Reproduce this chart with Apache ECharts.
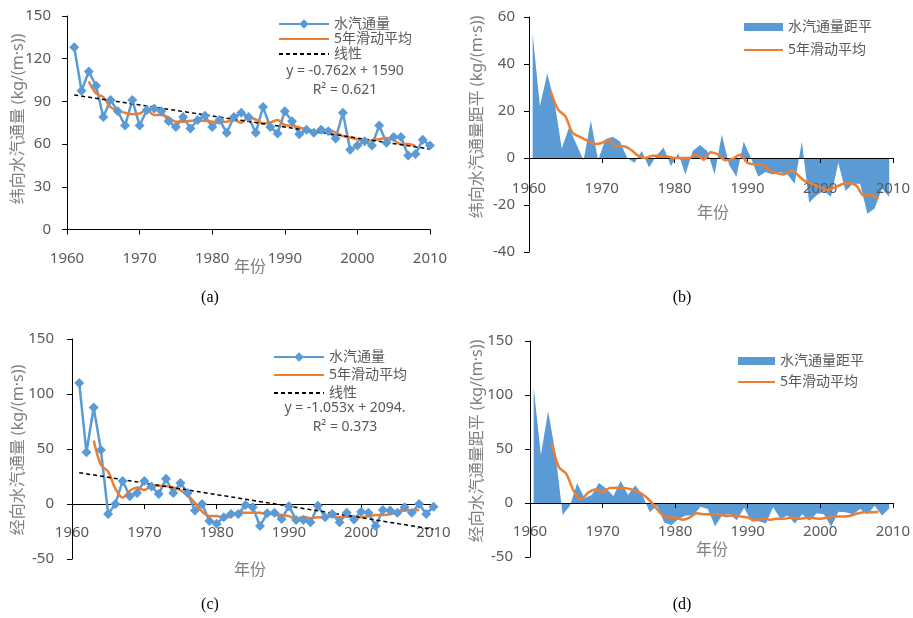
<!DOCTYPE html>
<html lang="zh-CN">
<head>
<meta charset="UTF-8">
<title>水汽通量</title>
<script src="https://cdn.jsdelivr.net/npm/echarts@6/dist/echarts.min.js"></script>
<style>
    html, body { margin: 0; padding: 0; background: #fff; }
    #main { width: 913px; height: 618px; }
</style>
</head>
<body>
<div id="main"></div>
<script>
// 年份
var years = [1961, 1962, 1963, 1964, 1965, 1966, 1967, 1968, 1969, 1970,
             1971, 1972, 1973, 1974, 1975, 1976, 1977, 1978, 1979, 1980,
             1981, 1982, 1983, 1984, 1985, 1986, 1987, 1988, 1989, 1990,
             1991, 1992, 1993, 1994, 1995, 1996, 1997, 1998, 1999, 2000,
             2001, 2002, 2003, 2004, 2005, 2006, 2007, 2008, 2009, 2010];
var maYears = [1963, 1964, 1965, 1966, 1967, 1968, 1969, 1970, 1971, 1972,
               1973, 1974, 1975, 1976, 1977, 1978, 1979, 1980, 1981, 1982,
               1983, 1984, 1985, 1986, 1987, 1988, 1989, 1990, 1991, 1992,
               1993, 1994, 1995, 1996, 1997, 1998, 1999, 2000, 2001, 2002,
               2003, 2004, 2005, 2006, 2007, 2008];

// (a) 纬向水汽通量
var zonalFlux = [128, 97.5, 111, 101, 79, 91, 83, 73, 91, 73,
                 84, 85, 83, 76, 72, 79, 71, 77, 80, 72,
                 77, 68, 79, 82, 79, 68, 86, 72, 67.5, 83,
                 76, 67, 70, 68, 70, 69, 64, 82, 56, 59,
                 62, 59, 73, 61, 65, 65, 52, 53, 63, 59];
var zonalMA = [104, 95.6, 93, 86, 83.4, 82, 81, 81.5, 84, 80.4,
               80.4, 78.7, 75.7, 75.7, 76.4, 76.4, 76.4, 75.7, 75.5, 75.7,
               77, 75, 78.7, 77.3, 74.5, 75.2, 77, 73.4, 73, 71.7,
               70.3, 69, 68.2, 70.3, 68, 65.6, 64.7, 63.3, 61.6, 62.8,
               63.5, 64.2, 62.8, 60, 60, 58.6];
var zonalTrend = [[1961, 94.5], [2010, 56.5]];

// (b) 纬向距平
var zonalAnom = [53, 22, 36, 24, 4, 13, 6, -1, 16, -1,
                 8, 9, 7, 0, -2, 3, -4, 1, 4.5, -3.5,
                 2, -7, 3, 5.5, 3, -7, 10, -3, -8, 7,
                 0, -8, -6, -7, -6, -7, -11, 7, -19, -16,
                 -14, -16.5, -2, -14, -11, -11, -23.7, -21.5, -13, -16.5];
var zonalAnomMA = [28, 20.6, 17.7, 10.6, 9, 7.5, 6, 6.4, 7.8, 5,
                   5, 3.5, 1, 0, 1, 1, 0.6, 0, 0, 0,
                   1.5, -0.7, 2.5, 1.5, -1, -0.3, 1.4, -2, -2.7, -2.8,
                   -5.2, -6.4, -7, -5.2, -7.4, -10, -11, -12.5, -13.6, -12.5,
                   -11.2, -10.6, -11.8, -16, -15.6, -17.3];

// (c) 经向水汽通量
var meridFlux = [110, 47, 87.7, 49, -9, 0, 21, 7, 10, 21,
                 16, 9, 23, 10, 19, 10, -6, 0, -15.5, -18,
                 -12, -9, -9, -1, -3, -20, -8.5, -8, -13.7, -2,
                 -14.5, -14.5, -16.7, -1.5, -12, -9, -16.7, -8, -14, -7,
                 -8, -20, -5.5, -6, -8, -3, -8, 0, -9, -2.5];
var meridMA = [57.7, 35.5, 29.4, 14, 5.8, 12, 15, 12.7, 16.4, 16.7,
               16.4, 15, 12.7, 8, 1, -7, -11, -11, -13, -11,
               -7, -8, -8, -8, -9.4, -9, -10, -11, -13.7, -11.5,
               -13, -12, -12, -11, -12, -11.5, -11.5, -12, -11, -10,
               -10, -9.4, -7.6, -6, -6, -5.5];
var meridTrend = [[1961, 28.5], [2010, -23]];

// (d) 经向距平
var meridAnom = [107.5, 44.5, 85, 46.5, -11, -2.5, 18.5, 4.5, 7.5, 18.5,
                 13.5, 6.5, 20.5, 7.5, 16.5, 7.5, -8.5, -2.5, -18, -20.5,
                 -14.5, -11.5, -11.5, -3.5, -5.5, -21.5, -11, -10.5, -16, -4.5,
                 -17, -17, -19, -4, -14.5, -11.5, -19, -10.5, -16.5, -9.5,
                 -10.5, -22, -8, -8.5, -10.5, -5.5, -10.5, -2.5, -11.5, -5];
var meridAnomMA = [55.2, 33, 27, 11.5, 3.3, 9.5, 12.5, 10.2, 14, 14.2,
                   14, 12.5, 10.2, 5.5, -1.5, -9.5, -13.5, -13.5, -15.5, -13.5,
                   -9.5, -10.5, -10.5, -10.5, -12, -11.5, -12.5, -13.5, -16, -14,
                   -15.5, -14.5, -14.5, -13.5, -14.5, -14, -14, -14.5, -13.5, -12.5,
                   -12.5, -12, -10, -8.5, -8.5, -8];

var BLUE = '#5B9BD5', ORANGE = '#ED7D31';
var NUM_FONT = '"Noto Sans", sans-serif';
var CJK_FONT = '"Noto Sans", "Noto Sans CJK SC", sans-serif';

function pairs(xs, ys) {
    return ys.map(function (v, i) { return [xs[i], v]; });
}

// offset 把横轴（连同刻度标签）移到纵轴 0 的位置
function xAxisFor(gi, labelMargin, offset) {
    return {
        gridIndex: gi, type: 'value', min: 1960, max: 2010, interval: 10,
        offset: offset, z: 3,
        axisLine: { onZero: false, lineStyle: { color: '#000', width: 1 } },
        axisTick: { length: 5, lineStyle: { color: '#000' } },
        splitLine: { show: false },
        axisLabel: { margin: labelMargin, fontSize: 15, color: '#595959', fontFamily: NUM_FONT,
                     formatter: function (v) { return String(v); } }
    };
}
// 面积图在 Excel 中相对坐标轴偏移半年
function shiftAxisFor(gi) {
    return { gridIndex: gi, type: 'value', min: 1960.5, max: 2010.5, show: false };
}
function yAxisFor(gi, min, max, interval, labelMargin) {
    return {
        gridIndex: gi, type: 'value', min: min, max: max, interval: interval,
        axisLine: { show: true, onZero: false, lineStyle: { color: '#000', width: 1 } },
        axisTick: { show: true, length: 5, lineStyle: { color: '#000' } },
        splitLine: { show: false },
        axisLabel: { margin: labelMargin, fontSize: 15, color: '#595959', fontFamily: NUM_FONT }
    };
}

function fluxSeries(xi, yi, data) {
    return { name: '水汽通量', type: 'line', xAxisIndex: xi, yAxisIndex: yi, data: data,
             symbol: 'diamond', symbolSize: 10, color: BLUE,
             lineStyle: { width: 2.5, color: BLUE }, itemStyle: { color: BLUE } };
}
function maSeries(xi, yi, data) {
    return { name: '5年滑动平均', type: 'line', xAxisIndex: xi, yAxisIndex: yi, data: data,
             symbol: 'none', smooth: 0.3, color: ORANGE,
             lineStyle: { width: 2.5, color: ORANGE } };
}
function trendSeries(xi, yi, data) {
    return { name: '线性', type: 'line', xAxisIndex: xi, yAxisIndex: yi, data: data,
             symbol: 'none', color: '#000',
             lineStyle: { width: 1.5, color: '#000', type: [4, 3] } };
}
function anomSeries(xi, yi, data) {
    return { name: '水汽通量距平', type: 'line', xAxisIndex: xi, yAxisIndex: yi, data: data,
             symbol: 'none', color: BLUE, itemStyle: { color: BLUE },
             lineStyle: { width: 0 }, areaStyle: { color: BLUE, opacity: 1 } };
}

// 无标记的线条：图例中只保留线段
function lineOnly(name) {
    return { name: name, itemStyle: { color: 'rgba(0,0,0,0)', borderWidth: 0 } };
}

function legendFor(left, top, w, h, gap, lh, names) {
    return {
        orient: 'vertical', left: left, top: top, itemWidth: w, itemHeight: h, itemGap: gap,
        selectedMode: false, padding: 0,
        textStyle: { fontSize: 14, lineHeight: lh, color: '#595959', fontFamily: CJK_FONT },
        data: names
    };
}

function txt(x, y, s, size, color, font, rot) {
    return { type: 'text', x: x, y: y, rotation: rot || 0, silent: true,
             style: { text: s, fill: color, fontSize: size, fontFamily: font,
                      align: 'center', verticalAlign: 'middle' } };
}

var chart = echarts.init(document.getElementById('main'));

var option = {
    backgroundColor: '#fff',
    animation: false,
    grid: [
        { left: 67, top: 16, width: 363, height: 213.5 },
        { left: 529, top: 17, width: 364, height: 235 },
        { left: 72, top: 339, width: 361.5, height: 220 },
        { left: 530, top: 341, width: 363, height: 216 }
    ],
    xAxis: [
        xAxisFor(0, 22, 0),
        xAxisFor(1, 23, -94), shiftAxisFor(1),
        xAxisFor(2, 21, -55),
        xAxisFor(3, 21, -54), shiftAxisFor(3)
    ],
    yAxis: [
        yAxisFor(0, 0, 150, 30, 16),
        yAxisFor(1, -40, 60, 20, 14),
        yAxisFor(2, -50, 150, 50, 18),
        yAxisFor(3, -50, 150, 50, 17)
    ],
    legend: [
        legendFor(278, 17, 50, 12, 1, 12, ['水汽通量', lineOnly('5年滑动平均'), lineOnly('线性')]),
        legendFor(743, 19, 39, 8, 7, 16, [{ name: '水汽通量距平', icon: 'rect' }, lineOnly('5年滑动平均')]),
        legendFor(273, 350, 50, 12, 4, 12, ['水汽通量', lineOnly('5年滑动平均'), lineOnly('线性')]),
        legendFor(737, 353, 37, 8, 5, 16, [{ name: '水汽通量距平', icon: 'rect' }, lineOnly('5年滑动平均')])
    ],
    series: [
        fluxSeries(0, 0, pairs(years, zonalFlux)),
        maSeries(0, 0, pairs(maYears, zonalMA)),
        trendSeries(0, 0, zonalTrend),

        anomSeries(2, 1, pairs(years, zonalAnom)),
        maSeries(1, 1, pairs(maYears, zonalAnomMA)),

        fluxSeries(3, 2, pairs(years, meridFlux)),
        maSeries(3, 2, pairs(maYears, meridMA)),
        trendSeries(3, 2, meridTrend),

        anomSeries(5, 3, pairs(years, meridAnom)),
        maSeries(4, 3, pairs(maYears, meridAnomMA))
    ],
    graphic: [
        txt(18, 119, '纬向水汽通量 (kg/(m·s))', 16, '#808080', CJK_FONT, Math.PI / 2),
        txt(477, 117, '纬向水汽通量距平 (kg/(m·s))', 16, '#808080', CJK_FONT, Math.PI / 2),
        txt(18, 450, '经向水汽通量 (kg/(m·s))', 16, '#808080', CJK_FONT, Math.PI / 2),
        txt(477, 441, '经向水汽通量距平 (kg/(m·s))', 16, '#808080', CJK_FONT, Math.PI / 2),

        txt(250, 267, '年份', 16, '#808080', CJK_FONT),
        txt(713, 213, '年份', 16, '#808080', CJK_FONT),
        txt(250, 570, '年份', 16, '#808080', CJK_FONT),
        txt(712, 550, '年份', 16, '#808080', CJK_FONT),

        txt(345, 71, 'y = -0.762x + 1590', 14, '#595959', NUM_FONT),
        txt(345, 90, 'R² = 0.621', 14, '#595959', NUM_FONT),
        txt(345, 408, 'y = -1.053x + 2094.', 14, '#595959', NUM_FONT),
        txt(345, 427, 'R² = 0.373', 14, '#595959', NUM_FONT),

        txt(210, 298, '(a)', 16, '#000', '"Liberation Serif", serif'),
        txt(682, 298, '(b)', 16, '#000', '"Liberation Serif", serif'),
        txt(210, 605, '(c)', 16, '#000', '"Liberation Serif", serif'),
        txt(682, 605, '(d)', 16, '#000', '"Liberation Serif", serif')
    ]
};

chart.setOption(option);
</script>
</body>
</html>
